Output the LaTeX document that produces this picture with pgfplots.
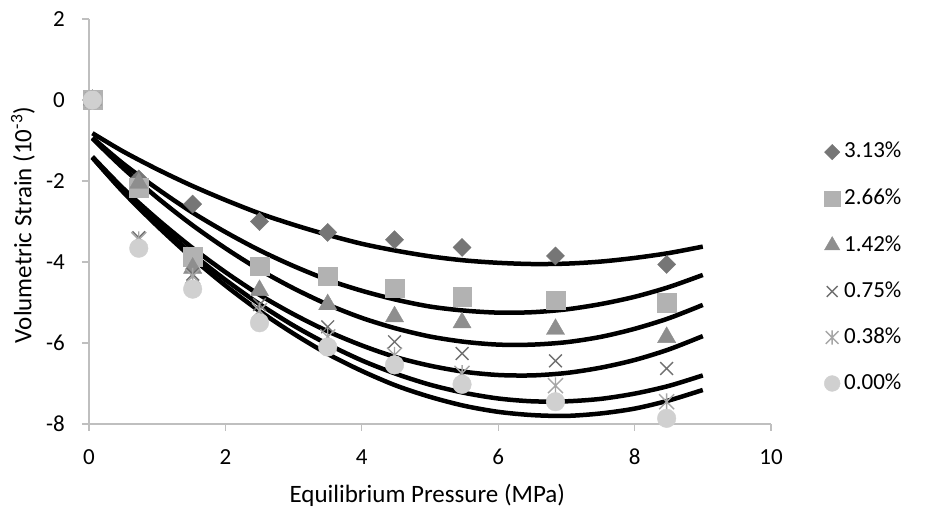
\documentclass[border=0pt]{standalone}
\usepackage{pgfplots}
\pgfplotsset{compat=1.18}
\usepackage{fontspec}
\setmainfont{Carlito}
\definecolor{axgray}{HTML}{BFBFBF}
\definecolor{cdia}{HTML}{767676}
\definecolor{csq}{HTML}{B2B2B2}
\definecolor{ctri}{HTML}{8E8E8E}
\definecolor{cx}{HTML}{707070}
\definecolor{cstar}{HTML}{A6A6A6}
\definecolor{ccirc}{HTML}{D0D0D0}
\pgfdeclareplotmark{xstar}{%
  \pgfpathmoveto{\pgfqpoint{-\pgfplotmarksize}{-\pgfplotmarksize}}%
  \pgfpathlineto{\pgfqpoint{\pgfplotmarksize}{\pgfplotmarksize}}%
  \pgfpathmoveto{\pgfqpoint{-\pgfplotmarksize}{\pgfplotmarksize}}%
  \pgfpathlineto{\pgfqpoint{\pgfplotmarksize}{-\pgfplotmarksize}}%
  \pgfpathmoveto{\pgfqpoint{0pt}{-1.1\pgfplotmarksize}}%
  \pgfpathlineto{\pgfqpoint{0pt}{1.1\pgfplotmarksize}}%
  \pgfusepathqstroke}
\begin{document}
\begin{tikzpicture}
\useasboundingbox (0,0) rectangle (926pt,511pt);
\begin{axis}[
  at={(89pt,87pt)}, anchor=south west,
  scale only axis, width=682pt, height=405pt,
  xmin=0, xmax=10, ymin=-8, ymax=2,
  xtick={0,2,...,10}, ytick={-8,-6,...,2},
  axis x line*=bottom, axis y line*=left,
  axis line style={axgray, line width=1.3pt, -},
  tick style={axgray, line width=1.3pt},
  tick align=outside, major tick length=7pt,
  tick label style={font=\fontsize{23}{27}\selectfont},
  /pgf/number format/assume math mode=true,
  yticklabel style={anchor=east, inner sep=0pt, xshift=-17pt},
  xticklabel style={anchor=base, inner sep=0pt, yshift=-34pt},
  xlabel={Equilibrium Pressure (MPa)},
  ylabel={Volumetric Strain (10\textsuperscript{-3})},
  label style={font=\fontsize{25}{30}\selectfont},
  xlabel style={at={(axis description cs:0.496,0)}, anchor=base, inner sep=0pt, yshift=-78pt},
  ylabel style={at={(axis description cs:-0.0968,0.491)}, anchor=center, inner sep=0pt},
  clip=false,
  legend style={draw=none, fill=none, at={(1.0777,0.40)}, anchor=west,
    row sep=19.4pt, font=\fontsize{23}{27}\selectfont, inner sep=0pt,
    nodes={inner sep=0pt}},
  legend cell align=left,
  legend image code/.code={%
    \path[draw=none, fill=none] (0pt,-3pt) rectangle (20pt,18pt);
    \draw[every mark/.append style={scale=0.85}, mark repeat=2, mark phase=2] plot coordinates {(0pt,-1.5pt)(8pt,-1.5pt)(16pt,-1.5pt)};},
]
\addplot[only marks, mark=square*, mark size=6.4pt, mark options={rotate=45, draw=cdia, fill=cdia}] coordinates {
(0.05,0) (0.73,-1.95) (1.52,-2.57) (2.5,-3.0) (3.5,-3.27) (4.48,-3.45) (5.47,-3.64) (6.84,-3.85) (8.47,-4.06)};
\addlegendentry{3.13\%}
\addplot[only marks, mark=square*, mark size=9.3pt, mark options={draw=csq, fill=csq}] coordinates {
(0.05,0) (0.73,-2.17) (1.52,-3.87) (2.5,-4.1) (3.5,-4.35) (4.48,-4.65) (5.47,-4.85) (6.84,-4.94) (8.47,-5.0)};
\addlegendentry{2.66\%}
\addplot[only marks, mark=triangle*, mark size=10.5pt, mark options={draw=ctri, fill=ctri}] coordinates {
(0.05,0) (0.73,-2.05) (1.52,-4.15) (2.5,-4.7) (3.5,-5.05) (4.48,-5.35) (5.47,-5.5) (6.84,-5.66) (8.47,-5.86)};
\addlegendentry{1.42\%}
\addplot[only marks, mark=x, mark size=9pt, mark options={draw=cx, line width=1.4pt}] coordinates {
(0.05,0) (0.73,-3.4) (1.52,-4.3) (2.5,-5.05) (3.5,-5.6) (4.48,-5.97) (5.47,-6.26) (6.84,-6.44) (8.47,-6.63)};
\addlegendentry{0.75\%}
\addplot[only marks, mark=xstar, mark size=7.5pt, mark options={draw=cstar, line width=1.4pt}] coordinates {
(0.05,0) (0.73,-3.45) (1.52,-4.35) (2.5,-5.2) (3.5,-5.85) (4.48,-6.3) (5.47,-6.75) (6.84,-7.05) (8.47,-7.45)};
\addlegendentry{0.38\%}
\addplot[only marks, mark=*, mark size=9.3pt, mark options={draw=ccirc, fill=ccirc}] coordinates {
(0.05,0) (0.73,-3.66) (1.52,-4.67) (2.5,-5.5) (3.5,-6.1) (4.48,-6.54) (5.47,-7.02) (6.84,-7.45) (8.47,-7.86)};
\addlegendentry{0.00\%}
% trendlines
\addplot[forget plot, black, line width=4.5pt, smooth, no marks] coordinates {
(0.05,-0.82) (0.5,-1.27) (1,-1.71) (1.5,-2.11) (2,-2.47) (2.5,-2.80) (3,-3.08) (3.5,-3.33) (4,-3.55) (4.5,-3.72) (5,-3.86) (5.5,-3.96) (6,-4.02) (6.5,-4.05) (7,-4.04) (7.5,-3.99) (8,-3.90) (8.5,-3.78) (9,-3.62)};
\addplot[forget plot, black, line width=4.5pt, smooth, no marks] coordinates {
(0.05,-0.93) (0.5,-1.57) (1,-2.19) (1.5,-2.76) (2,-3.26) (2.5,-3.71) (3,-4.10) (3.5,-4.44) (4,-4.71) (4.5,-4.93) (5,-5.10) (5.5,-5.20) (6,-5.25) (6.5,-5.24) (7,-5.17) (7.5,-5.04) (8,-4.86) (8.5,-4.62) (9,-4.32)};
\addplot[forget plot, black, line width=4.5pt, smooth, no marks] coordinates {
(0.05,-0.95) (0.5,-1.68) (1,-2.41) (1.5,-3.07) (2,-3.66) (2.5,-4.19) (3,-4.65) (3.5,-5.05) (4,-5.38) (4.5,-5.64) (5,-5.84) (5.5,-5.97) (6,-6.04) (6.5,-6.04) (7,-5.98) (7.5,-5.85) (8,-5.65) (8.5,-5.39) (9,-5.06)};
\addplot[forget plot, black, line width=4.5pt, smooth, no marks] coordinates {
(0.05,-1.40) (0.5,-2.18) (1,-2.94) (1.5,-3.63) (2,-4.25) (2.5,-4.81) (3,-5.29) (3.5,-5.71) (4,-6.06) (4.5,-6.35) (5,-6.56) (5.5,-6.71) (6,-6.79) (6.5,-6.80) (7,-6.74) (7.5,-6.61) (8,-6.42) (8.5,-6.16) (9,-5.83)};
\addplot[forget plot, black, line width=4.5pt, smooth, no marks] coordinates {
(0.05,-1.42) (0.5,-2.25) (1,-3.05) (1.5,-3.78) (2,-4.44) (2.5,-5.04) (3,-5.57) (3.5,-6.03) (4,-6.43) (4.5,-6.76) (5,-7.03) (5.5,-7.23) (6,-7.37) (6.5,-7.44) (7,-7.44) (7.5,-7.38) (8,-7.25) (8.5,-7.06) (9,-6.80)};
\addplot[forget plot, black, line width=4.5pt, smooth, no marks] coordinates {
(0.05,-1.42) (0.5,-2.27) (1,-3.11) (1.5,-3.88) (2,-4.58) (2.5,-5.21) (3,-5.77) (3.5,-6.27) (4,-6.69) (4.5,-7.05) (5,-7.33) (5.5,-7.55) (6,-7.70) (6.5,-7.78) (7,-7.80) (7.5,-7.74) (8,-7.62) (8.5,-7.42) (9,-7.16)};
\end{axis}
\end{tikzpicture}
\end{document}
